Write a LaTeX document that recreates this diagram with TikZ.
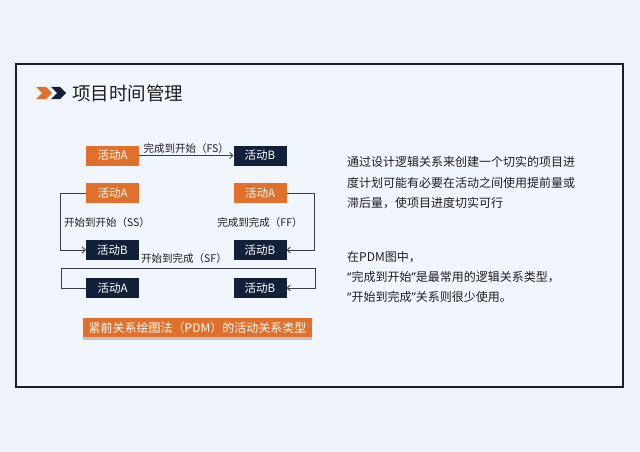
\documentclass[tikz,border=0pt]{standalone}
\usepackage{fontspec}
\setmainfont{Noto Sans CJK SC}
\newfontfamily\latinq{Noto Sans}
\usetikzlibrary{arrows.meta,shadows}
\definecolor{bgc}{HTML}{EEF2FA}
\definecolor{innerc}{HTML}{F1F5FC}
\definecolor{framec}{HTML}{1C1F2B}
\definecolor{orangec}{HTML}{E0702B}
\definecolor{navyc}{HTML}{13203A}
\definecolor{linec}{HTML}{3A3D45}
\definecolor{txtc}{HTML}{1E1E1E}
\newcommand{\myLq}{{\latinq “}}
\newcommand{\myRq}{{\latinq ”}}
\begin{document}
\begin{tikzpicture}[x=1pt,y=-1pt,
  act/.style={minimum width=53pt,minimum height=20pt,inner sep=0pt,text=white,font=\fontsize{11.5}{11.5}\selectfont},
  actA/.style={act,fill=orangec},
  actB/.style={act,fill=navyc},
  conn/.style={draw=linec,line width=0.8pt,-{Straight Barb[length=3pt,width=6pt]}},
  rel/.style={text=txtc,font=\fontsize{10.5}{10.5}\selectfont,inner sep=1pt},
  body/.style={text=txtc,font=\fontsize{12}{12}\selectfont,anchor=west,inner sep=0pt}]
\fill[bgc] (0,0) rectangle (640,452);
\useasboundingbox (0,0) rectangle (640,452);
\draw[framec,line width=1.3pt,fill=innerc] (16,64) rectangle (623,387);
% title
\fill[orangec] (36,87) -- (46,87) -- (52,93) -- (46,99) -- (36,99) -- (42,93) -- cycle;
\fill[navyc] (51,87) -- (60,87) -- (66,93) -- (60,99) -- (51,99) -- (57,93) -- cycle;
\node[anchor=west,inner sep=0pt,text=txtc,font=\fontsize{18.5}{18.5}\selectfont] (title) at (72,93) {项目时间管理};
% activities
\node[actA] (a1) at (112.5,155.5) {活动A};
\node[actB] (b1) at (260,155.5) {活动B};
\node[actA] (a2) at (112.5,193) {活动A};
\node[actA] (a3) at (260,193) {活动A};
\node[actB] (b2) at (112.5,250) {活动B};
\node[actB] (b3) at (260,250) {活动B};
\node[actB] (a4) at (112.5,288) {活动A};
\node[actB] (b4) at (260,288) {活动B};
% connectors
\draw[conn] (a1) -- (b1) node[rel,midway,above=1pt] (fs) {完成到开始（FS）};
\draw[conn] (a2.west) -- ++(-25,0) |- (b2.west);
\draw[conn] (a3.east) -- ++(28,0) |- (b3.east);
\coordinate (sfl) at (61,268);
\coordinate (sfr) at (315,268);
\draw[conn] (a4.west) -| (sfl) -- (sfr) |- (b4.east);
\node[rel] (ss) at (107,223) {开始到开始（SS）};
\node[rel] (ff) at (260,223) {完成到完成（FF）};
\node[rel] (sf) at (184,259) {开始到完成（SF）};
% caption
\node[fill=orangec,minimum width=229pt,minimum height=19pt,inner sep=0pt,text=white,
  font=\fontsize{12}{12}\selectfont,
  drop shadow={shadow xshift=0pt,shadow yshift=-3pt,opacity=0.45}] (cap) at (197.5,327.5)
  {紧前关系绘图法（PDM）的活动关系类型};
% right text
\node[body] (t1) at (347,162) {通过设计逻辑关系来创建一个切实的项目进};
\node[body] (t2) at (347,183) {度计划可能有必要在活动之间使用提前量或};
\node[body] (t3) at (347,203) {滞后量，使项目进度切实可行};
\node[body] (t4) at (347,257) {在PDM图中，};
\node[body] (t5) at (347,277) {\myLq 完成到开始\myRq 是最常用的逻辑关系类型，};
\node[body] (t6) at (347,297) {\myLq 开始到完成\myRq 关系则很少使用。};
\end{tikzpicture}
\end{document}
